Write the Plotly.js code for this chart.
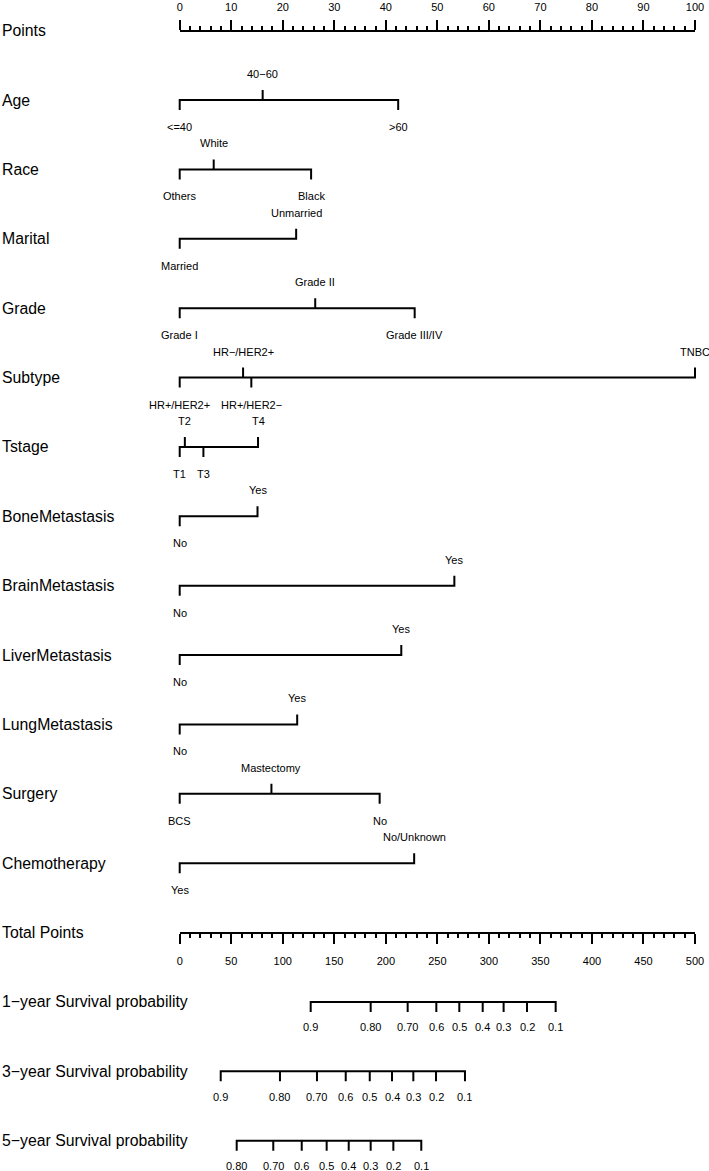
<!DOCTYPE html>
<html><head><meta charset="utf-8">
<script src="https://cdn.plot.ly/plotly-3.0.1.min.js"></script>
<style>html,body{margin:0;padding:0;background:#fff}</style>
</head><body><div id="chart" style="width:709px;height:1171px"></div>
<script>
// ---------------- data ----------------
const rowLabels = ['Points','Age','Race','Marital','Grade','Subtype','Tstage','BoneMetastasis',
  'BrainMetastasis','LiverMetastasis','LungMetastasis','Surgery','Chemotherapy','Total Points',
  '1\u2212year Survival probability','3\u2212year Survival probability','5\u2212year Survival probability'];

const ageLevels = ['<=40','40\u221260','>60'];
const agePoints = [0, 16.1, 42.4];
const raceLevels = ['Others','White','Black'];
const racePoints = [0, 6.6, 25.5];
const maritalLevels = ['Married','Unmarried'];
const maritalPoints = [0, 22.6];
const gradeLevels = ['Grade I','Grade II','Grade III/IV'];
const gradePoints = [0, 26.3, 45.6];
const subtypeLevels = ['HR+/HER2+','HR\u2212/HER2+','HR+/HER2\u2212','TNBC'];
const subtypePoints = [0, 12.3, 13.9, 100];
const tstageLevels = ['T1','T2','T3','T4'];
const tstagePoints = [0, 1.0, 4.6, 15.2];
const boneLevels = ['No','Yes'];
const bonePoints = [0, 15.1];
const brainLevels = ['No','Yes'];
const brainPoints = [0, 53.3];
const liverLevels = ['No','Yes'];
const liverPoints = [0, 43.0];
const lungLevels = ['No','Yes'];
const lungPoints = [0, 22.8];
const surgeryLevels = ['BCS','Mastectomy','No'];
const surgeryPoints = [0, 17.8, 38.8];
const chemoLevels = ['Yes','No/Unknown'];
const chemoPoints = [0, 45.5];

const surv1Labels = ['0.9','0.80','0.70','0.6','0.5','0.4','0.3','0.2','0.1'];
const surv1Total  = [127.1, 185.3, 221.2, 249.0, 271.3, 294.0, 314.3, 337.0, 364.8];
const surv3Labels = ['0.9','0.80','0.70','0.6','0.5','0.4','0.3','0.2','0.1'];
const surv3Total  = [39.8, 97.3, 133.2, 161.1, 184.4, 206.0, 226.7, 248.7, 276.8];
const surv5Labels = ['0.80','0.70','0.6','0.5','0.4','0.3','0.2','0.1'];
const surv5Total  = [55.3, 90.8, 118.4, 142.6, 164.0, 185.3, 207.3, 234.4];

// ---------------- layout geometry ----------------
const W = 709, H = 1171;
const X0 = 179.7, X100 = 695;        // pixel x of 0 and 100 points
const ROW0 = 30.7, ROWSTEP = 69.375; // pixel y of first row and row spacing
const PXU = (X100 - X0) / 100;
const PAD = 2;
const domMain = [(X0 - PAD * PXU) / W, (X100 + PAD * PXU) / W];
const domAxis = [X0 / W, X100 / W];
const yRange = [(H - ROW0) / ROWSTEP, -ROW0 / ROWSTEP];
const TK = 10 / ROWSTEP;
const FONT = 'Liberation Sans, Arial, Helvetica, sans-serif';
const LW = 2;

const variables = [
  {row: 1, levels: ageLevels, pts: agePoints},
  {row: 2, levels: raceLevels, pts: racePoints},
  {row: 3, levels: maritalLevels, pts: maritalPoints},
  {row: 4, levels: gradeLevels, pts: gradePoints},
  {row: 5, levels: subtypeLevels, pts: subtypePoints},
  {row: 6, levels: tstageLevels, pts: tstagePoints},
  {row: 7, levels: boneLevels, pts: bonePoints},
  {row: 8, levels: brainLevels, pts: brainPoints},
  {row: 9, levels: liverLevels, pts: liverPoints},
  {row: 10, levels: lungLevels, pts: lungPoints},
  {row: 11, levels: surgeryLevels, pts: surgeryPoints},
  {row: 12, levels: chemoLevels, pts: chemoPoints}
];
const survRows = [
  {row: 14, labels: surv1Labels, pts: surv1Total},
  {row: 15, labels: surv3Labels, pts: surv3Total},
  {row: 16, labels: surv5Labels, pts: surv5Total}
];

const traces = [];
const annotations = [];

function bracePath(row, pts, dirs) {
  // dirs: +1 = tick downward (label below), -1 = tick upward (label above)
  const order = pts.map((p, i) => i).sort((a, b) => pts[a] - pts[b]);
  const xs = [], ys = [];
  order.forEach((i, k) => {
    const tipY = row + dirs[i] * TK;
    if (k === 0) { xs.push(pts[i], pts[i]); ys.push(tipY, row); }
    else if (k === order.length - 1) { xs.push(pts[i], pts[i]); ys.push(row, tipY); }
    else { xs.push(pts[i], pts[i], pts[i]); ys.push(row, tipY, row); }
  });
  return {xs, ys};
}

variables.forEach(v => {
  const dirs = v.levels.map((l, i) => (i % 2 === 0 ? 1 : -1));
  const p = bracePath(v.row, v.pts, dirs);
  traces.push({type: 'scatter', mode: 'lines', x: p.xs, y: p.ys, xaxis: 'x', yaxis: 'y',
    line: {color: '#000', width: LW}, hoverinfo: 'skip', showlegend: false});
  v.levels.forEach((lab, i) => {
    annotations.push({xref: 'x', yref: 'y', x: v.pts[i], y: v.row, text: lab, showarrow: false,
      xanchor: 'center', yanchor: 'middle', yshift: dirs[i] > 0 ? -27 : 26,
      font: {family: FONT, size: 11, color: '#000'}});
  });
});

survRows.forEach(s => {
  const dirs = s.pts.map(() => 1);
  const p = bracePath(s.row, s.pts, dirs);
  traces.push({type: 'scatter', mode: 'lines', x: p.xs, y: p.ys, xaxis: 'x2', yaxis: 'y',
    line: {color: '#000', width: LW}, hoverinfo: 'skip', showlegend: false});
  s.labels.forEach((lab, i) => {
    annotations.push({xref: 'x2', yref: 'y', x: s.pts[i], y: s.row, text: lab, showarrow: false,
      xanchor: 'center', yanchor: 'middle', yshift: -25.5,
      font: {family: FONT, size: 11, color: '#000'}});
  });
});

rowLabels.forEach((lab, k) => {
  annotations.push({xref: 'paper', yref: 'y', x: 0, y: k, text: lab, showarrow: false,
    xanchor: 'left', yanchor: 'middle', font: {family: FONT, size: 15.8, color: '#000'}});
});

// dummy traces to instantiate the scale axes
traces.push({type: 'scatter', mode: 'lines', x: [null], y: [null], xaxis: 'x3', yaxis: 'y', hoverinfo: 'skip', showlegend: false});
traces.push({type: 'scatter', mode: 'lines', x: [null], y: [null], xaxis: 'x4', yaxis: 'y', hoverinfo: 'skip', showlegend: false});

const hidden = {showgrid: false, zeroline: false, showline: false, showticklabels: false, ticks: '', fixedrange: true};
const scaleAxis = (range, dtick, minorDtick, side, posPx, standoff) => ({
  domain: domAxis, range: range, anchor: 'free', position: 1 - posPx / H, side: side,
  showline: true, linewidth: LW, linecolor: '#000', showgrid: false, zeroline: false,
  ticks: 'outside', ticklen: 10, tickwidth: LW, tickcolor: '#000', tick0: 0, dtick: dtick,
  minor: {dtick: minorDtick, ticks: 'outside', ticklen: 4, tickwidth: LW, tickcolor: '#000', showgrid: false},
  ticklabelstandoff: standoff, tickfont: {family: FONT, size: 11, color: '#000'}, fixedrange: true, automargin: false
});

const layout = {
  width: W, height: H, margin: {l: 0, r: 0, t: 0, b: 0}, paper_bgcolor: '#fff', plot_bgcolor: 'rgba(0,0,0,0)',
  showlegend: false,
  xaxis: Object.assign({domain: domMain, range: [-PAD, 100 + PAD], anchor: 'y'}, hidden),
  xaxis2: Object.assign({domain: domMain, range: [-PAD * 5, 500 + PAD * 5], overlaying: 'x', anchor: 'y'}, hidden),
  xaxis3: scaleAxis([0, 100], 10, 2, 'top', ROW0, 4),
  xaxis4: scaleAxis([0, 500], 50, 10, 'bottom', ROW0 + 13 * ROWSTEP, 8),
  yaxis: Object.assign({domain: [0, 1], range: yRange, anchor: 'x'}, hidden),
  annotations: annotations
};

Plotly.newPlot('chart', traces, layout, {staticPlot: true, displayModeBar: false});
</script>
</body></html>
